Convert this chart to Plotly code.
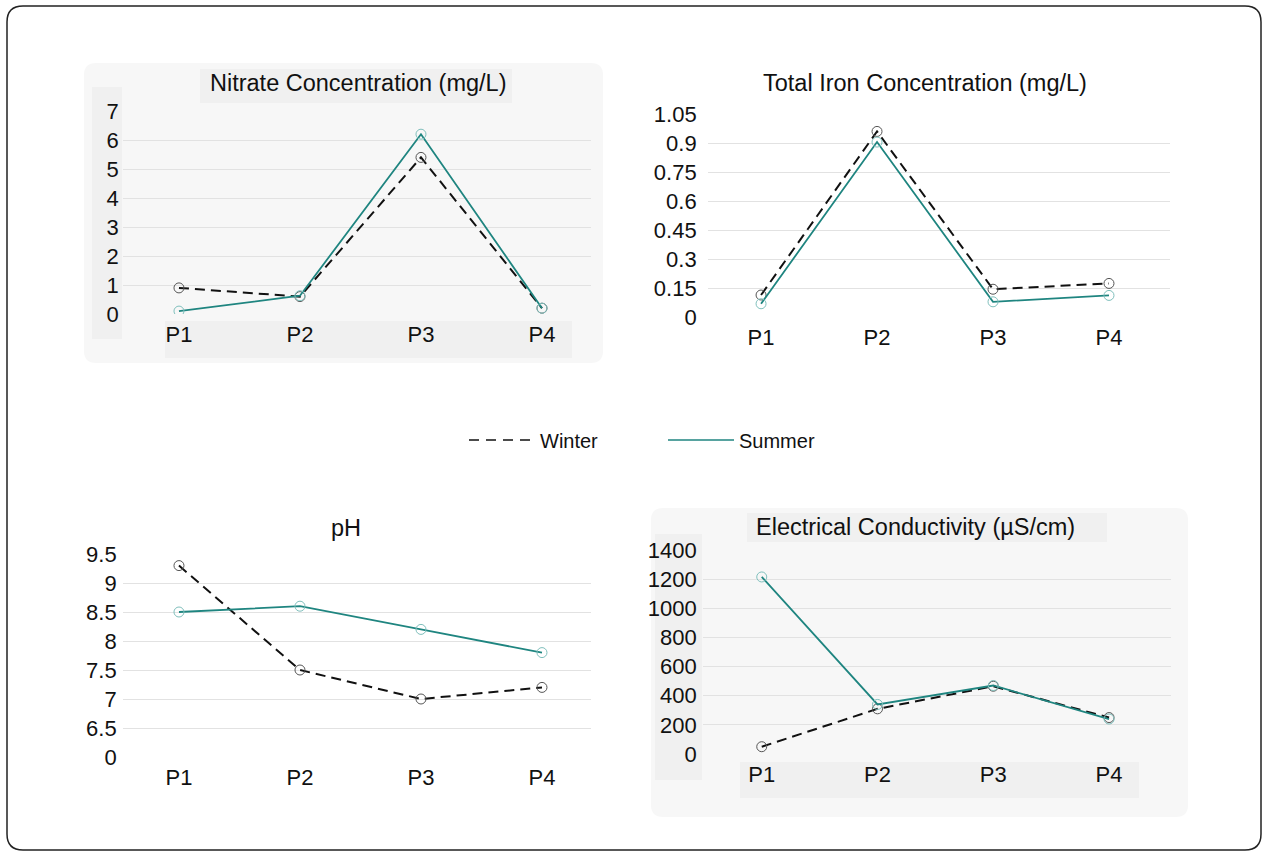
import plotly.graph_objects as go

categories = ["P1", "P2", "P3", "P4"]
nitrate_winter = [0.9, 0.6, 5.4, 0.2]
nitrate_summer = [0.1, 0.63, 6.2, 0.2]
iron_winter = [0.115, 0.96, 0.145, 0.175]
iron_summer = [0.07, 0.905, 0.08, 0.113]
ph_winter = [9.3, 7.5, 7.0, 7.2]
ph_summer = [8.5, 8.6, 8.2, 7.8]
ec_winter = [50, 310, 465, 250]
ec_summer = [1215, 340, 470, 240]

titles = ["Nitrate Concentration (mg/L)", "Total Iron Concentration (mg/L)", "pH",
          "Electrical Conductivity (µS/cm)"]
series_names = ["Winter", "Summer"]
ph_tickvals = [6, 6.5, 7, 7.5, 8, 8.5, 9, 9.5]
ph_ticktext = ["0", "6.5", "7", "7.5", "8", "8.5", "9", "9.5"]

W, H = 1264, 853
FONT = "Liberation Sans, Arial, sans-serif"
TEAL = "#1f8580"

def px(x):
    return x / W

def py(y):
    return 1 - y / H

def rrect(x0, y0, x1, y1, r, fill, line_color=None, line_width=0, layer="below"):
    X0, X1 = px(x0), px(x1)
    Y0, Y1 = py(y0), py(y1)
    rx, ry = r / W, r / H
    path = (f"M {X0+rx} {Y0} L {X1-rx} {Y0} Q {X1} {Y0} {X1} {Y0-ry} "
            f"L {X1} {Y1+ry} Q {X1} {Y1} {X1-rx} {Y1} "
            f"L {X0+rx} {Y1} Q {X0} {Y1} {X0} {Y1+ry} "
            f"L {X0} {Y0-ry} Q {X0} {Y0} {X0+rx} {Y0} Z")
    return dict(type="path", path=path, xref="paper", yref="paper",
                fillcolor=fill, line=dict(color=line_color or "rgba(0,0,0,0)", width=line_width),
                layer=layer)

def rect(x0, y0, x1, y1, fill):
    return dict(type="rect", xref="paper", yref="paper", x0=px(x0), x1=px(x1),
                y0=py(y1), y1=py(y0), fillcolor=fill, line=dict(width=0), layer="below")

fig = go.Figure()

data = [(nitrate_winter, nitrate_summer), (iron_winter, iron_summer),
        (ph_winter, ph_summer), (ec_winter, ec_summer)]

for i, (wv, sv) in enumerate(data):
    suf = "" if i == 0 else str(i + 1)
    fig.add_trace(go.Scatter(
        x=categories, y=wv, mode="lines+markers", name=series_names[0], showlegend=False,
        xaxis="x" + suf, yaxis="y" + suf,
        line=dict(color="#111111", width=2, dash="10px,6px"),
        marker=dict(symbol="circle-open", size=10, color="#555555", line=dict(width=1))))
    fig.add_trace(go.Scatter(
        x=categories, y=sv, mode="lines+markers", name=series_names[1], showlegend=False,
        xaxis="x" + suf, yaxis="y" + suf,
        line=dict(color=TEAL, width=1.8),
        marker=dict(symbol="circle-open", size=10, color="#7fbfbc", line=dict(width=1))))

# legend-only traces
fig.add_trace(go.Scatter(x=[None], y=[None], mode="lines", name=series_names[0],
                         line=dict(color="#111111", width=1.5, dash="10px,7px")))
fig.add_trace(go.Scatter(x=[None], y=[None], mode="lines", name=series_names[1],
                         line=dict(color=TEAL, width=1.5)))

tickfont = dict(family=FONT, size=22, color="#111111")
grid = "#e2e2e2"

def xax(x0, x1, rng, anchor):
    return dict(domain=[px(x0), px(x1)], type="category", range=rng, showgrid=False,
                zeroline=False, showline=False, ticks="", tickfont=tickfont,
                fixedrange=True, automargin=False, anchor=anchor, ticklabelstandoff=5)

def yax(y_top, y_bot, rng, anchor, standoff, **kw):
    d = dict(domain=[py(y_bot), py(y_top)], range=rng, showgrid=True, gridcolor=grid,
             gridwidth=1, zeroline=False, showline=False, ticks="", tickfont=tickfont,
             anchor=anchor, fixedrange=True, automargin=False, ticklabelstandoff=standoff)
    d.update(kw)
    return d

fig.update_layout(
    width=W, height=H, autosize=False,
    margin=dict(l=0, r=0, t=0, b=0, autoexpand=False),
    paper_bgcolor="white", plot_bgcolor="rgba(0,0,0,0)",
    font=dict(family=FONT, color="#111111"),
    xaxis=xax(122.7, 591, [-0.465, 3.405], "y"),
    yaxis=yax(111, 314, [0, 7], "x", 3, tickvals=list(range(0, 8))),
    xaxis2=xax(707.7, 1170, [-0.46, 3.526], "y2"),
    yaxis2=yax(114, 317.3, [0, 1.05], "x2", 10,
               tickvals=[0, 0.15, 0.3, 0.45, 0.6, 0.75, 0.9, 1.05],
               ticktext=["0", "0.15", "0.3", "0.45", "0.6", "0.75", "0.9", "1.05"]),
    xaxis3=xax(122.7, 591, [-0.465, 3.405], "y3"),
    yaxis3=yax(554, 757, [6, 9.5], "x3", 5, tickvals=ph_tickvals, ticktext=ph_ticktext),
    xaxis4=xax(702.7, 1171, [-0.51, 3.535], "y4"),
    yaxis4=yax(550, 754, [0, 1400], "x4", 5, tickvals=list(range(0, 1401, 200))),
    legend=dict(orientation="h", x=px(464), y=py(440), xanchor="left", yanchor="middle",
                font=dict(family=FONT, size=20, color="#111111"),
                itemwidth=66, entrywidth=118, bgcolor="rgba(0,0,0,0)"),
)

shapes = [
    rrect(7, 6, 1261, 850, 16, "rgba(0,0,0,0)", "#222222", 1.5, layer="above"),
    # Nitrate panel
    rrect(84, 63, 603, 363, 12, "#f7f7f7"),
    rect(200, 69, 512, 103, "#f0f0f0"),
    rect(92, 87, 122, 339, "#f0f0f0"),
    rect(165, 321, 572, 358, "#f0f0f0"),
    # EC panel
    rrect(651, 508, 1188, 817, 12, "#f7f7f7"),
    rect(747, 513, 1107, 542, "#f0f0f0"),
    rect(655, 534, 702, 780, "#f0f0f0"),
    rect(740, 762, 1139, 798, "#f0f0f0"),
]
fig.update_layout(shapes=shapes)

title_pos = [(358, 83), (925, 83), (346, 528), (915, 527)]
for t, (x, y) in zip(titles, title_pos):
    fig.add_annotation(text=t, x=px(x), y=py(y), xref="paper", yref="paper",
                       xanchor="center", yanchor="middle", showarrow=False,
                       font=dict(family=FONT, size=23.5, color="#111111"))

fig.write_html("out.html")
